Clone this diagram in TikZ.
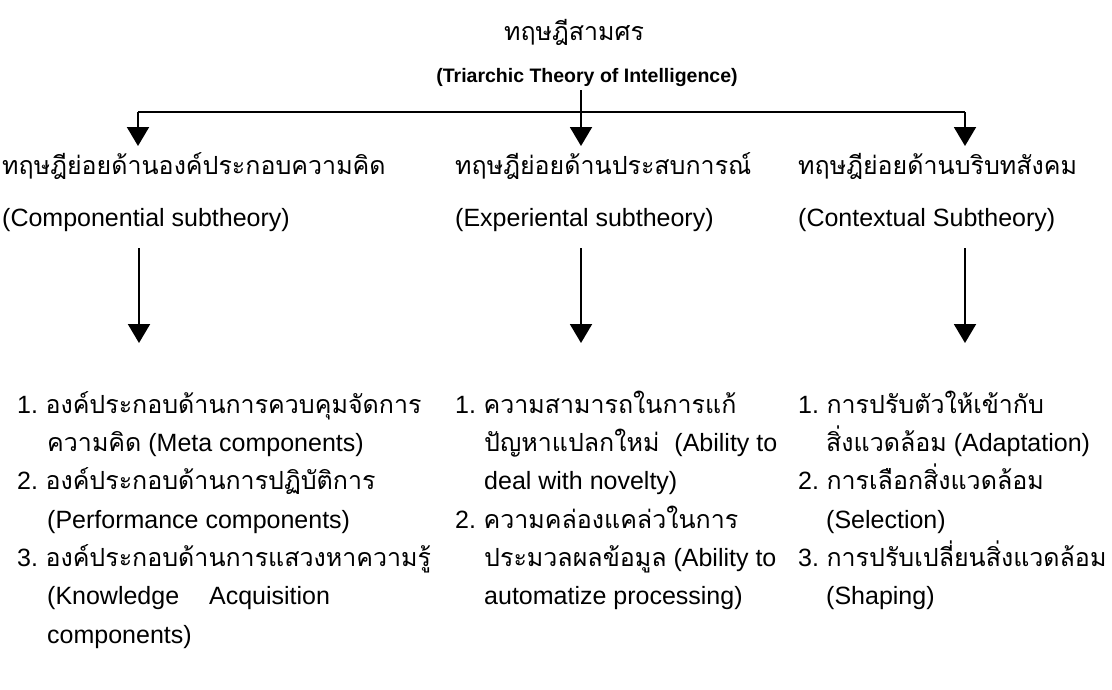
\documentclass[tikz,border=0pt]{standalone}
\usepackage{fontspec}
\setmainfont{Liberation Sans}
\newfontfamily\thai[Script=Thai]{Loma}
\usetikzlibrary{arrows.meta}

\begin{document}
\begin{tikzpicture}[x=1pt,y=-1pt,
  txt/.style={anchor=base west, inner sep=0pt, font=\fontsize{25}{30}\selectfont},
  ttl/.style={anchor=base, inner sep=0pt},
  link/.style={line width=2pt},
  arr/.style={line width=2pt, -{Triangle[width=22pt,length=19pt]}}]
\useasboundingbox[fill=white] (0,0) rectangle (1112,689);

% title
\node[ttl, font=\fontsize{25}{30}\selectfont] (title) at (574,40) {\thai ทฤษฎีสามศร};
\node[ttl, font=\bfseries\fontsize{19.5}{24}\selectfont] (titleen) at (587,82) {(Triarchic Theory of Intelligence)};

% branch headers
\node[txt] (h1) at (2,174) {\thai ทฤษฎีย่อยด้านองค์ประกอบความคิด};
\node[txt] (e1) at (2,226) {(Componential subtheory)};
\node[txt] (h2) at (455,174) {\thai ทฤษฎีย่อยด้านประสบการณ์};
\node[txt] (e2) at (455,226) {(Experiental subtheory)};
\node[txt] (h3) at (798,174) {\thai ทฤษฎีย่อยด้านบริบทสังคม};
\node[txt] (e3) at (798,226) {(Contextual Subtheory)};

% branching connector
\coordinate (stem) at (581,90);
\coordinate (bar1) at (138,112);
\coordinate (bar3) at (965,112);
\coordinate (tip1) at (138,146);
\coordinate (tip2) at (581,146);
\coordinate (tip3) at (965,146);
\draw[link] (bar1) -- (bar3);
\draw[arr] (stem) -- (tip2);
\draw[arr] (bar1) -- (tip1);
\draw[arr] (bar3) -- (tip3);

% arrows to the lists
\coordinate (s1) at (139,248);
\coordinate (t1) at (139,343);
\coordinate (s2) at (581,248);
\coordinate (t2) at (581,343);
\coordinate (s3) at (965,248);
\coordinate (t3) at (965,343);
\draw[arr] (s1) -- (t1);
\draw[arr] (s2) -- (t2);
\draw[arr] (s3) -- (t3);

% componential list
\node[txt] (a1) at (17,413) {1.\hspace{0.3em}{\thai องค์ประกอบด้านการควบคุมจัดการ}};
\node[txt] (a2) at (47,451) {{\thai ความคิด} (Meta components)};
\node[txt] (a3) at (17,489) {2.\hspace{0.3em}{\thai องค์ประกอบด้านการปฏิบัติการ}};
\node[txt] (a4) at (47,528) {(Performance components)};
\node[txt] (a5) at (17,566) {3.\hspace{0.3em}{\thai องค์ประกอบด้านการแสวงหาความรู้}};
\node[txt] (a6) at (47,604) {(Knowledge\hspace{1.2em}Acquisition};
\node[txt] (a7) at (47,643) {components)};

% experiential list
\node[txt] (b1) at (455,413) {1.\hspace{0.3em}{\thai ความสามารถในการแก้}};
\node[txt] (b2) at (484,451) {{\thai ปัญหาแปลกใหม่}\hspace{0.6em}(Ability to};
\node[txt] (b3) at (484,489) {deal with novelty)};
\node[txt] (b4) at (455,528) {2.\hspace{0.3em}{\thai ความคล่องแคล่วในการ}};
\node[txt] (b5) at (484,566) {{\thai ประมวลผลข้อมูล} (Ability to};
\node[txt] (b6) at (484,604) {automatize processing)};

% contextual list
\node[txt] (c1) at (798,413) {1.\hspace{0.3em}{\thai การปรับตัวให้เข้ากับ}};
\node[txt] (c2) at (826,451) {{\thai สิ่งแวดล้อม} (Adaptation)};
\node[txt] (c3) at (798,489) {2.\hspace{0.3em}{\thai การเลือกสิ่งแวดล้อม}};
\node[txt] (c4) at (826,528) {(Selection)};
\node[txt] (c5) at (798,566) {3.\hspace{0.3em}{\thai การปรับเปลี่ยนสิ่งแวดล้อม}};
\node[txt] (c6) at (826,604) {(Shaping)};
\end{tikzpicture}
\end{document}
